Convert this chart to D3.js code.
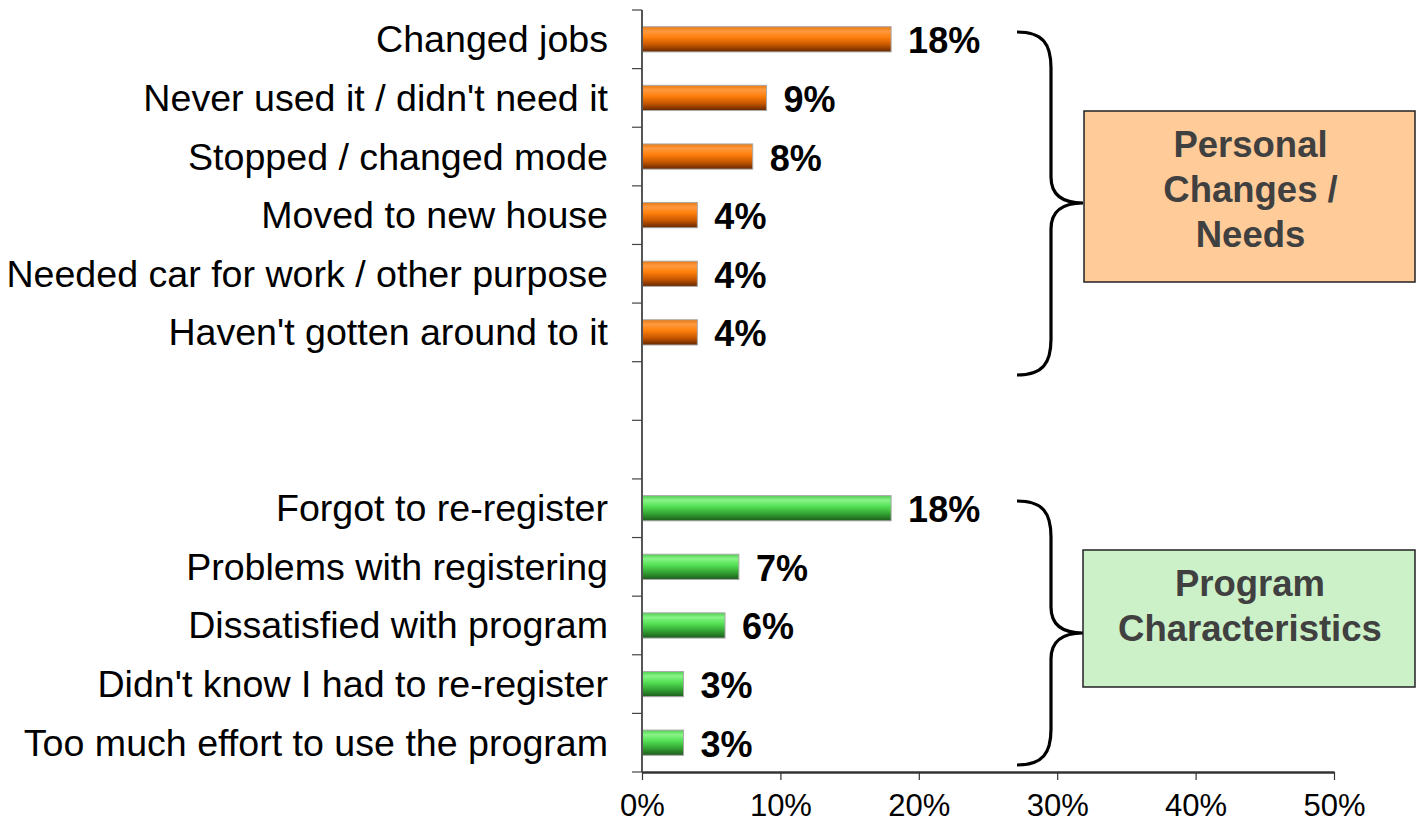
<!DOCTYPE html>
<html>
<head>
<meta charset="utf-8">
<script src="https://cdn.jsdelivr.net/npm/d3@7"></script>
<style>
  html, body { margin: 0; padding: 0; background: #fff; }
  svg { display: block; font-family: "Liberation Sans", Arial, sans-serif; }
</style>
</head>
<body>
<svg id="chart" width="1416" height="823"></svg>
<script>
// ---- Data ----
const personalCategories = ["Changed jobs", "Never used it / didn't need it", "Stopped / changed mode", "Moved to new house", "Needed car for work / other purpose", "Haven't gotten around to it"];
const personalValues = [18, 9, 8, 4, 4, 4];
const programCategories = ["Forgot to re-register", "Problems with registering", "Dissatisfied with program", "Didn't know I had to re-register", "Too much effort to use the program"];
const programValues = [18, 7, 6, 3, 3];
const xTicks = [0, 10, 20, 30, 40, 50];
const groupLabels = [["Personal", "Changes /", "Needs"], ["Program", "Characteristics"]];

// ---- Layout ----
const svg = d3.select("#chart");
const x0 = 642, x1 = 1334, yTop = 10, yBottom = 772;

const rows = [];
personalCategories.forEach((c, i) => rows.push({id: "p" + i, name: c, value: personalValues[i], group: 0}));
rows.push({id: "blank0", name: "", value: null, group: -1});
rows.push({id: "blank1", name: "", value: null, group: -1});
programCategories.forEach((c, i) => rows.push({id: "g" + i, name: c, value: programValues[i], group: 1}));

const x = d3.scaleLinear().domain([0, 50]).range([x0, x1]);
const y = d3.scaleBand().domain(rows.map(d => d.id)).range([yTop, yBottom])
  .paddingInner(0.57).paddingOuter(0.285);

// Gradients
const defs = svg.append("defs");
function grad(id, stops) {
  const g = defs.append("linearGradient").attr("id", id).attr("x1", 0).attr("y1", 0).attr("x2", 0).attr("y2", 1);
  stops.forEach(s => g.append("stop").attr("offset", s[0]).attr("stop-color", s[1]));
}
grad("gradOrange", [[0, "#e8780f"], [0.18, "#ff9a40"], [0.42, "#ff800c"], [0.72, "#c65600"], [1, "#642700"]]);
grad("gradGreen", [[0, "#4fcf4f"], [0.18, "#88f488"], [0.42, "#55e255"], [0.72, "#33a333"], [1, "#1c5a1c"]]);

// Bars
const dataRows = rows.filter(d => d.value !== null);
svg.append("g").selectAll("rect").data(dataRows).join("rect")
  .attr("x", x(0))
  .attr("y", d => y(d.id))
  .attr("width", d => x(d.value) - x(0))
  .attr("height", y.bandwidth())
  .attr("fill", d => d.group === 0 ? "url(#gradOrange)" : "url(#gradGreen)")
  .attr("stroke", "#a8a8a8")
  .attr("stroke-width", 1);

// Value labels
svg.append("g").selectAll("text").data(dataRows).join("text")
  .attr("x", d => x(d.value) + 17)
  .attr("y", d => y(d.id) + y.bandwidth() / 2 + 14)
  .attr("font-size", 36)
  .attr("font-weight", "bold")
  .attr("fill", "#000")
  .text(d => d.value + "%");

// Category labels
svg.append("g").selectAll("text").data(dataRows).join("text")
  .attr("x", x0 - 34)
  .attr("y", d => y(d.id) + y.bandwidth() / 2 + 13)
  .attr("text-anchor", "end")
  .attr("font-size", 37.6)
  .attr("fill", "#000")
  .text(d => d.name);

// Y axis line + ticks at band boundaries
const step = y.step();
const yAxisG = svg.append("g");
yAxisG.append("line").attr("x1", x0).attr("x2", x0).attr("y1", yTop).attr("y2", yBottom)
  .attr("stroke", "#555").attr("stroke-width", 2);
yAxisG.selectAll("line.tick").data(d3.range(rows.length + 1)).join("line")
  .attr("class", "tick")
  .attr("x1", x0 - 10).attr("x2", x0)
  .attr("y1", i => yTop + i * step).attr("y2", i => yTop + i * step)
  .attr("stroke", "#444").attr("stroke-width", 1.2);

// X axis
const xAxis = d3.axisBottom(x).tickValues(xTicks).tickFormat(d => d + "%").tickSize(8).tickSizeOuter(0);
const xg = svg.append("g").attr("transform", `translate(0,${yBottom})`).call(xAxis);
xg.select(".domain").attr("stroke", "#333").attr("stroke-width", 2.5);
xg.selectAll(".tick line").attr("stroke", "#333").attr("stroke-width", 1.2);
xg.selectAll(".tick text").attr("font-size", 31).attr("font-family", "Liberation Sans, Arial, sans-serif")
  .attr("fill", "#000").attr("dy", 0).attr("y", 44);

// Braces
function brace(xs, xv, xp, top, mid, bottom) {
  const r = 26;
  return `M${xs},${top} C${xv - 8},${top} ${xv},${top + 12} ${xv},${top + r + 10}` +
    ` L${xv},${mid - r}` +
    ` C${xv},${mid - 6} ${xv + 14},${mid} ${xp},${mid}` +
    ` C${xv + 14},${mid} ${xv},${mid + 6} ${xv},${mid + r}` +
    ` L${xv},${bottom - r - 10}` +
    ` C${xv},${bottom - 12} ${xv - 8},${bottom} ${xs},${bottom}`;
}
const braceG = svg.append("g").attr("fill", "none").attr("stroke", "#000").attr("stroke-width", 3.2);
braceG.append("path").attr("d", brace(1017, 1051, 1083, 32, 203, 375));
braceG.append("path").attr("d", brace(1017, 1051, 1083, 501, 633, 765));

// Group boxes
const boxes = [
  {x: 1084, y: 111, w: 331, h: 171, fill: "#ffcc99", lines: groupLabels[0], firstBaseline: 157},
  {x: 1083, y: 550, w: 332, h: 137, fill: "#ccf0c8", lines: groupLabels[1], firstBaseline: 596}
];
boxes.forEach(b => {
  svg.append("rect").attr("x", b.x).attr("y", b.y).attr("width", b.w).attr("height", b.h)
    .attr("fill", b.fill).attr("stroke", "#222").attr("stroke-width", 1.5);
  svg.append("g").selectAll("text").data(b.lines).join("text")
    .attr("x", b.x + b.w / 2 + 1)
    .attr("y", (d, i) => b.firstBaseline + i * 45)
    .attr("text-anchor", "middle")
    .attr("font-size", 36.5)
    .attr("font-weight", "bold")
    .attr("fill", "#404040")
    .text(d => d);
});
</script>
</body>
</html>
